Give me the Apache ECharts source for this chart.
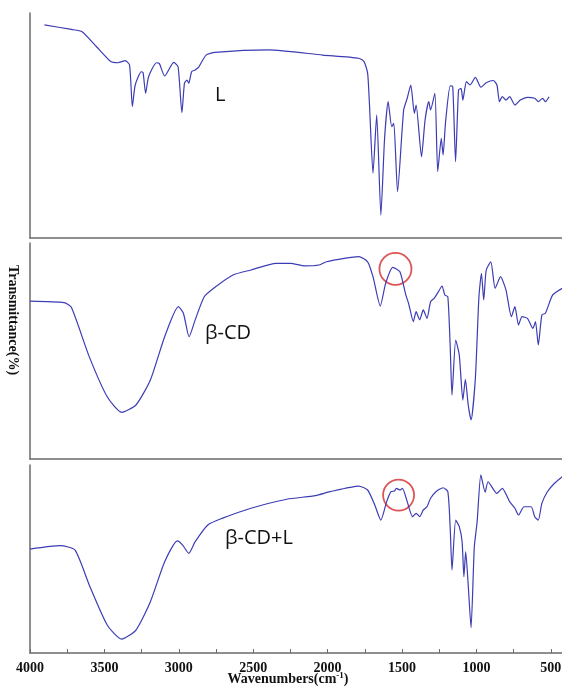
<!DOCTYPE html>
<html>
<head>
<meta charset="utf-8">
<style>
  html, body { margin: 0; padding: 0; background: #fff; }
  #chart { width: 562px; height: 688px; }
</style>
<script src="https://cdn.jsdelivr.net/npm/echarts@6/dist/echarts.min.js"></script>
</head>
<body>
<div id="chart"></div>
<script>
// 光谱数据 (波数 cm-1, 透过率 %)
var lWn = [3903, 3722, 3650, 3553, 3457, 3409, 3360, 3331, 3312, 3293, 3252, 3240, 3223, 3203, 3150, 3131, 3095, 3034, 3005, 2979, 2962, 2945, 2933, 2914, 2890, 2865, 2817, 2757, 2395, 2033, 1791, 1755, 1731, 1719, 1695, 1670, 1642, 1617, 1593, 1569, 1555, 1530, 1489, 1465, 1441, 1417, 1405, 1369, 1345, 1320, 1308, 1279, 1260, 1236, 1224, 1207, 1176, 1159, 1140, 1120, 1103, 1091, 1067, 1043, 1007, 970, 934, 886, 862, 845, 826, 801, 777, 741, 705, 657, 608, 584, 555, 536, 512]
var lT = [94.7, 92.7, 91.7, 85.0, 78.4, 77.9, 78.8, 76.9, 58.4, 68.0, 73.9, 73.5, 64.3, 71.7, 77.9, 77.6, 72.0, 78.1, 76.1, 55.7, 68.8, 70.2, 68.8, 73.9, 74.7, 76.1, 81.3, 82.5, 83.6, 81.3, 79.9, 78.4, 73.2, 59.9, 28.8, 54.7, 10.2, 44.3, 60.6, 49.5, 51.0, 20.6, 56.9, 62.1, 68.0, 55.4, 59.1, 36.1, 52.4, 60.6, 56.9, 64.3, 29.5, 44.3, 36.9, 51.7, 67.6, 67.3, 33.9, 65.8, 66.5, 61.3, 69.5, 68.0, 71.4, 67.0, 69.0, 70.0, 68.0, 60.6, 62.8, 61.3, 62.8, 59.1, 61.3, 62.5, 62.1, 60.6, 62.1, 60.6, 62.8]

var cdWn = [4000, 3771, 3722, 3602, 3481, 3384, 3288, 3191, 3095, 3003, 2969, 2931, 2890, 2829, 2757, 2636, 2515, 2346, 2250, 2153, 2057, 2008, 1888, 1791, 1731, 1695, 1646, 1610, 1562, 1514, 1477, 1453, 1424, 1405, 1381, 1357, 1332, 1308, 1284, 1255, 1231, 1212, 1192, 1176, 1164, 1139, 1115, 1091, 1074, 1055, 1036, 1007, 983, 966, 951, 934, 903, 874, 838, 801, 765, 741, 717, 693, 657, 620, 603, 584, 560, 536, 488, 423]
var cdT = [73.1, 72.4, 70.2, 47.4, 28.8, 21.6, 25.0, 36.6, 56.6, 70.5, 67.5, 56.6, 64.4, 75.1, 79.5, 85.2, 87.5, 90.6, 90.6, 89.4, 89.8, 91.3, 92.9, 93.7, 91.3, 84.4, 70.8, 81.3, 88.7, 86.7, 76.7, 71.3, 63.6, 68.2, 64.4, 69.0, 65.1, 72.8, 74.4, 77.5, 80.1, 75.9, 75.1, 52.0, 29.6, 55.1, 48.1, 27.3, 36.9, 25.0, 18.1, 37.4, 75.1, 86.0, 73.6, 87.5, 91.3, 79.0, 84.4, 78.2, 65.9, 70.5, 62.0, 65.9, 65.1, 60.5, 63.6, 52.8, 66.7, 67.5, 75.9, 79.0]

var mixWn = [4000, 3795, 3698, 3602, 3481, 3384, 3288, 3191, 3095, 3010, 2974, 2933, 2890, 2805, 2709, 2515, 2274, 2081, 1984, 1791, 1731, 1683, 1642, 1603, 1574, 1550, 1538, 1514, 1497, 1465, 1429, 1405, 1381, 1357, 1332, 1308, 1272, 1224, 1192, 1176, 1164, 1139, 1115, 1096, 1084, 1072, 1055, 1036, 1014, 995, 970, 941, 922, 862, 826, 777, 741, 717, 680, 632, 608, 584, 560, 523, 475, 423]
var mixT = [55.3, 57.1, 54.8, 36.2, 14.9, 7.4, 12.2, 27.3, 48.6, 59.6, 57.4, 53.0, 59.2, 68.1, 71.6, 77.0, 81.8, 83.7, 85.8, 88.8, 86.7, 78.7, 70.7, 80.5, 85.8, 86.2, 87.6, 86.7, 87.6, 80.5, 72.5, 74.3, 72.5, 76.1, 77.8, 82.3, 85.8, 87.9, 85.8, 66.3, 44.1, 70.7, 67.2, 59.2, 40.6, 53.9, 36.2, 13.5, 56.5, 69.8, 94.7, 85.5, 91.1, 84.9, 87.6, 80.5, 77.0, 73.4, 77.8, 77.8, 72.5, 70.7, 79.6, 85.8, 90.3, 93.8]

// 红圈标注位置
var circleWn = [1544, 1523]
var circleT = [88, 84]

var xTicks = [4000, 3500, 3000, 2500, 2000, 1500, 1000, 500]

function pairs(xs, ys) {
  var out = []
  for (var i = 0; i < xs.length; i++) {
    out.push([xs[i], ys[i]])
  }
  return out
}

var myChart = echarts.init(document.getElementById('chart'))

var grids = [
  { left: 30, right: -26, top: 13, height: 225, outerBoundsMode: 'none' },
  { left: 30, right: -26, top: 243, height: 216, outerBoundsMode: 'none' },
  { left: 30, right: -26, top: 465, height: 188, outerBoundsMode: 'none' }
]

var xAxes = []
var yAxes = []
for (var g = 0; g < 3; g++) {
  var last = g === 2
  xAxes.push({
    type: 'value',
    gridIndex: g,
    inverse: true,
    min: 250,
    max: 4000,
    interval: 250,
    axisLine: { show: true, lineStyle: { color: '#6b6b6b', width: 1.5 } },
    axisTick: { show: last, inside: true, length: 4, lineStyle: { color: '#6b6b6b' } },
    axisLabel: {
      show: last,
      margin: 8,
      color: '#111',
      fontFamily: 'Liberation Serif',
      fontWeight: 'bold',
      fontSize: 14,
      formatter: function (v) {
        return xTicks.indexOf(v) >= 0 ? String(v) : ''
      }
    },
    splitLine: { show: false }
  })
  yAxes.push({
    type: 'value',
    gridIndex: g,
    min: 0,
    max: 100,
    axisLine: { show: true, lineStyle: { color: '#6b6b6b', width: 1.5 } },
    axisTick: { show: false },
    axisLabel: { show: false },
    splitLine: { show: false }
  })
}

var lineStyle = { color: '#3c3cb4', width: 1.2 }

var option = {
  animation: false,
  backgroundColor: '#fff',
  grid: grids,
  xAxis: xAxes,
  yAxis: yAxes,
  series: [
    {
      type: 'line', xAxisIndex: 0, yAxisIndex: 0,
      data: pairs(lWn, lT), showSymbol: false, smooth: 0.2,
      lineStyle: lineStyle
    },
    {
      type: 'line', xAxisIndex: 1, yAxisIndex: 1,
      data: pairs(cdWn, cdT), showSymbol: false, smooth: 0.2,
      lineStyle: lineStyle
    },
    {
      type: 'line', xAxisIndex: 2, yAxisIndex: 2,
      data: pairs(mixWn, mixT), showSymbol: false, smooth: 0.2,
      lineStyle: lineStyle
    },
    {
      type: 'scatter', xAxisIndex: 1, yAxisIndex: 1,
      data: [[circleWn[0], circleT[0]]], symbolSize: 32,
      itemStyle: { color: 'none', borderColor: '#d42a2a', borderWidth: 1.8 }
    },
    {
      type: 'scatter', xAxisIndex: 2, yAxisIndex: 2,
      data: [[circleWn[1], circleT[1]]], symbolSize: 31,
      itemStyle: { color: 'none', borderColor: '#d42a2a', borderWidth: 1.8 }
    }
  ],
  graphic: [
    {
      type: 'text', left: 215, top: 85,
      style: { text: 'L', fontFamily: 'Open Sans', fontSize: 20, fill: '#111' }
    },
    {
      type: 'text', left: 205, top: 323,
      style: { text: 'β-CD', fontFamily: 'Open Sans', fontSize: 20, fill: '#111' }
    },
    {
      type: 'text', left: 225, top: 528,
      style: { text: 'β-CD+L', fontFamily: 'Open Sans', fontSize: 20, fill: '#111' }
    },
    {
      type: 'text', x: 13, y: 320, rotation: -Math.PI / 2,
      style: {
        text: 'Transmittance(%)', fontFamily: 'Liberation Serif', fontWeight: 'bold',
        fontSize: 14, fill: '#111', align: 'center', verticalAlign: 'middle'
      }
    },
    {
      type: 'text', x: 288, y: 679,
      style: {
        text: 'Wavenumbers(cm{sup|-1})',
        rich: { sup: { fontSize: 9, verticalAlign: 'top', padding: [0, 0, 6, 0], fontWeight: 'bold', fontFamily: 'Liberation Serif' } },
        fontFamily: 'Liberation Serif', fontWeight: 'bold',
        fontSize: 14, fill: '#111', align: 'center', verticalAlign: 'middle'
      }
    }
  ]
}

myChart.setOption(option)
</script>
</body>
</html>
